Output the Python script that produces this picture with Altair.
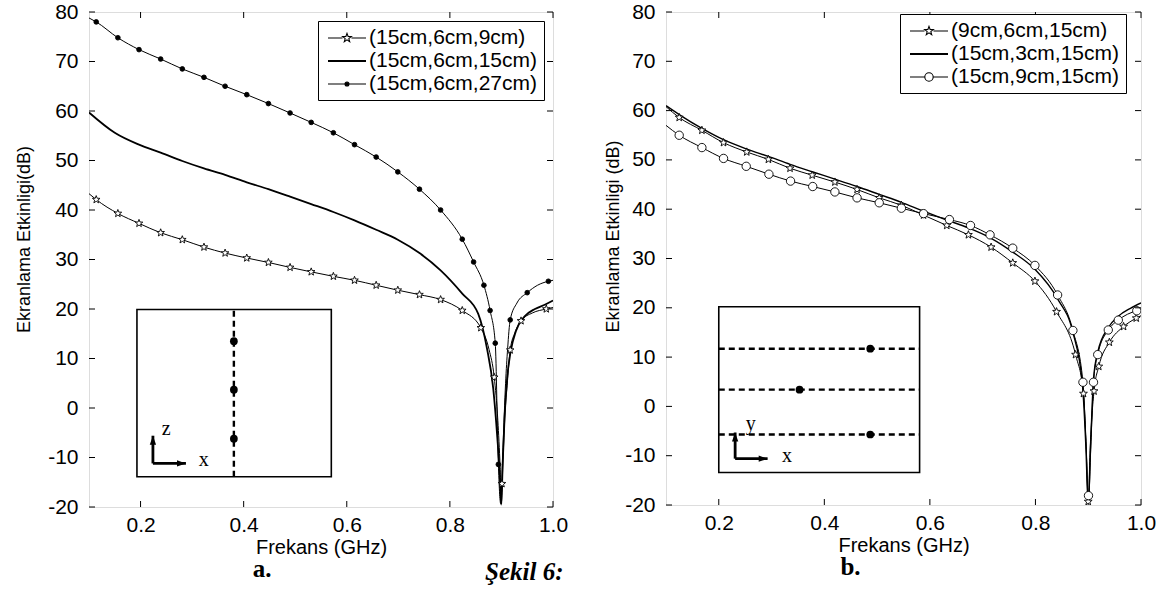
import math
import altair as alt
import pandas as pd

FONT = "Liberation Sans"
SERIF = "Liberation Serif"

X_TICKS = [0.2, 0.4, 0.6, 0.8, 1.0]
Y_TICKS = [-20, -10, 0, 10, 20, 30, 40, 50, 60, 70, 80]
X_TITLE = "Frekans (GHz)"

# ---------------- panel a ----------------
A_LABELS = ["(15cm,6cm,9cm)", "(15cm,6cm,15cm)", "(15cm,6cm,27cm)"]
A_YTITLE = "Ekranlama Etkinligi(dB)"

a1_line_x = [0.100, 0.114, 0.156, 0.197, 0.239, 0.281, 0.323, 0.364, 0.406, 0.448, 0.490, 0.531, 0.574,
             0.615, 0.657, 0.699, 0.741, 0.782, 0.824, 0.860, 0.876, 0.886, 0.893, 0.8975, 0.900, 0.9025,
             0.907, 0.911, 0.917, 0.926, 0.938, 0.960, 0.987, 1.000]
a1_line_y = [43.3, 42.1, 39.3, 37.3, 35.4, 34.0, 32.5, 31.3, 30.3, 29.4, 28.4, 27.5, 26.6,
             25.8, 24.8, 23.8, 22.9, 21.9, 19.7, 16.2, 11.8, 6.2, -2.5, -12.0, -19.4, -12.0,
             -1.0, 4.5, 11.7, 15.2, 17.6, 19.2, 20.0, 20.3]
a1_mark_x = [0.114, 0.156, 0.197, 0.239, 0.281, 0.323, 0.364, 0.406, 0.448, 0.490, 0.531, 0.574, 0.615,
             0.657, 0.699, 0.741, 0.782, 0.824, 0.860, 0.886, 0.901, 0.917, 0.938, 0.987]
a1_mark_y = [42.1, 39.3, 37.3, 35.4, 34.0, 32.5, 31.3, 30.3, 29.4, 28.4, 27.5, 26.6, 25.8,
             24.8, 23.8, 22.9, 21.9, 19.7, 16.2, 6.2, -15.3, 11.7, 17.6, 20.0]

a2_line_x = [0.100, 0.150, 0.197, 0.239, 0.281, 0.323, 0.364, 0.406, 0.448, 0.490, 0.531, 0.574, 0.615,
             0.657, 0.699, 0.741, 0.782, 0.824, 0.855, 0.872, 0.884, 0.892, 0.8965, 0.8995, 0.9025,
             0.906, 0.911, 0.918, 0.928, 0.945, 0.965, 0.985, 1.000]
a2_line_y = [59.7, 55.6, 53.2, 51.6, 49.9, 48.4, 47.1, 45.6, 44.2, 42.7, 41.2, 39.6, 37.9,
             36.0, 34.0, 31.3, 27.8, 23.1, 19.0, 12.0, 4.0, -6.0, -13.0, -19.5, -11.0,
             -2.0, 6.0, 11.5, 15.5, 18.5, 20.0, 20.9, 21.7]

a3_line_x = [0.100, 0.114, 0.156, 0.197, 0.239, 0.281, 0.323, 0.364, 0.406, 0.448, 0.490, 0.531, 0.574,
             0.615, 0.657, 0.699, 0.741, 0.782, 0.824, 0.846, 0.866, 0.878, 0.888, 0.894, 0.8985,
             0.903, 0.908, 0.912, 0.917, 0.930, 0.950, 0.970, 0.991, 1.000]
a3_line_y = [78.8, 78.0, 74.8, 72.4, 70.5, 68.5, 66.8, 65.0, 63.3, 61.5, 59.6, 57.7, 55.6,
             53.2, 50.7, 47.7, 44.2, 40.0, 34.1, 29.5, 24.8, 19.7, 13.1, -11.4, -19.3,
             -8.0, 5.0, 12.0, 17.8, 21.2, 23.3, 24.8, 25.6, 25.8]
a3_mark_x = [0.114, 0.156, 0.197, 0.239, 0.281, 0.323, 0.364, 0.406, 0.448, 0.490, 0.531, 0.574, 0.615,
             0.657, 0.699, 0.741, 0.782, 0.824, 0.846, 0.866, 0.878, 0.888, 0.894, 0.917, 0.950, 0.991]
a3_mark_y = [78.0, 74.8, 72.4, 70.5, 68.5, 66.8, 65.0, 63.3, 61.5, 59.6, 57.7, 55.6, 53.2,
             50.7, 47.7, 44.2, 40.0, 34.1, 29.5, 24.8, 19.7, 13.1, -11.4, 17.8, 23.3, 25.6]

# inset a (data units)
a_box = [0.193, 0.570, -13.9, 19.9]
a_dash_x1 = [0.381]
a_dash_x2 = [0.381]
a_dash_y1 = [-13.9]
a_dash_y2 = [19.9]
a_dot_x = [0.381, 0.381, 0.381]
a_dot_y = [13.5, 3.7, -6.2]
a_origin = [0.224, -11.2]
a_up_tip = -5.6
a_right_tip = 0.288
a_txt = ["z", "x"]
a_txt_x = [0.241, 0.313]
a_txt_y = [-4.2, -10.6]

# ---------------- panel b ----------------
B_LABELS = ["(9cm,6cm,15cm)", "(15cm,3cm,15cm)", "(15cm,9cm,15cm)"]
B_YTITLE = "Ekranlama Etkinligi (dB)"

b1_line_x = [0.100, 0.125, 0.168, 0.209, 0.253, 0.294, 0.335, 0.377, 0.420, 0.462, 0.504, 0.546, 0.588,
             0.632, 0.673, 0.716, 0.757, 0.799, 0.840, 0.876, 0.891, 0.8965, 0.900, 0.9035, 0.911,
             0.920, 0.940, 0.967, 0.991, 1.000]
b1_line_y = [60.8, 58.6, 56.0, 53.5, 51.6, 50.1, 48.3, 46.9, 45.5, 44.0, 42.3, 40.8, 38.8,
             36.7, 34.8, 32.3, 29.1, 25.4, 19.2, 10.5, 2.6, -9.0, -19.8, -9.0, 3.1,
             8.1, 13.0, 16.2, 17.9, 18.4]
b1_mark_x = [0.125, 0.168, 0.209, 0.253, 0.294, 0.335, 0.377, 0.420, 0.462, 0.504, 0.546, 0.588,
             0.632, 0.673, 0.716, 0.757, 0.799, 0.840, 0.876, 0.891, 0.900, 0.911, 0.920, 0.940,
             0.967, 0.991]
b1_mark_y = [58.6, 56.0, 53.5, 51.6, 50.1, 48.3, 46.9, 45.5, 44.0, 42.3, 40.8, 38.8,
             36.7, 34.8, 32.3, 29.1, 25.4, 19.2, 10.5, 2.6, -19.3, 3.1, 8.1, 13.0,
             16.2, 17.9]

b2_line_x = [0.100, 0.125, 0.168, 0.209, 0.253, 0.294, 0.335, 0.377, 0.420, 0.462, 0.504, 0.546, 0.588,
             0.632, 0.673, 0.716, 0.757, 0.799, 0.842, 0.871, 0.889, 0.8955, 0.900, 0.9045, 0.910,
             0.918, 0.938, 0.957, 0.980, 1.000]
b2_line_y = [61.0, 59.2, 56.4, 54.1, 52.2, 50.7, 49.1, 47.6, 46.1, 44.6, 43.0, 41.4, 39.6,
             37.8, 36.2, 34.1, 31.3, 27.8, 21.8, 15.0, 4.5, -8.0, -20.0, -8.0, 5.5,
             11.0, 16.0, 18.3, 19.9, 21.0]

b3_line_x = [0.100, 0.125, 0.168, 0.209, 0.252, 0.295, 0.336, 0.378, 0.420, 0.462, 0.504, 0.546, 0.588,
             0.637, 0.677, 0.714, 0.757, 0.799, 0.842, 0.871, 0.890, 0.896, 0.9005, 0.905, 0.910,
             0.918, 0.938, 0.957, 0.992, 1.000]
b3_line_y = [57.0, 55.0, 52.5, 50.3, 48.7, 47.1, 45.7, 44.6, 43.5, 42.3, 41.3, 40.2, 39.1,
             37.9, 36.7, 34.8, 32.1, 28.6, 22.6, 15.4, 4.9, -8.0, -19.3, -8.0, 4.9,
             10.5, 15.5, 17.5, 19.4, 19.6]
b3_mark_x = [0.125, 0.168, 0.209, 0.252, 0.295, 0.336, 0.378, 0.420, 0.462, 0.504, 0.546, 0.588,
             0.637, 0.677, 0.714, 0.757, 0.799, 0.842, 0.871, 0.890, 0.9005, 0.910, 0.918, 0.938,
             0.957, 0.992]
b3_mark_y = [55.0, 52.5, 50.3, 48.7, 47.1, 45.7, 44.6, 43.5, 42.3, 41.3, 40.2, 39.1,
             37.9, 36.7, 34.8, 32.1, 28.6, 22.6, 15.4, 4.9, -18.1, 4.9, 10.5, 15.5,
             17.5, 19.4]

# inset b (data units)
b_box = [0.200, 0.5805, -13.4, 20.2]
b_dash_x1 = [0.200, 0.200, 0.200]
b_dash_x2 = [0.5805, 0.5805, 0.5805]
b_dash_y1 = [11.7, 3.4, -5.7]
b_dash_y2 = [11.7, 3.4, -5.7]
b_dot_x = [0.487, 0.353, 0.487]
b_dot_y = [11.7, 3.4, -5.7]
b_origin = [0.231, -10.6]
b_up_tip = -5.3
b_right_tip = 0.2925
b_txt = ["y", "x"]
b_txt_x = [0.251, 0.320]
b_txt_y = [-3.6, -10.1]


# ---------------- symbol paths (styles) ----------------
def star_path(cx, cy, ro, ri):
    pts = []
    for k in range(10):
        ang = -math.pi / 2 + k * math.pi / 5
        r = ro if k % 2 == 0 else ri
        pts.append((cx + r * math.cos(ang), cy + r * math.sin(ang)))
    return "M" + "L".join(f"{x:.3f},{y:.3f}" for x, y in pts) + "Z"


def circle_path(cx, cy, r):
    return (f"M{cx + r:.3f},{cy:.3f}A{r:.3f},{r:.3f},0,1,1,{cx - r:.3f},{cy:.3f}"
            f"A{r:.3f},{r:.3f},0,1,1,{cx + r:.3f},{cy:.3f}Z")


STAR = star_path(0, 0, 1.0, 0.42)
LEG_STAR = "M-1.9,0H-0.45M0.45,0H1.9" + star_path(0, 0, 0.46, 0.19)
LEG_SOLID = "M-1.9,-0.05H1.9M-1.9,0.05H1.9"
LEG_DOT = "M-1.9,0H1.9" + circle_path(0, 0, 0.2)
LEG_CIRC = "M-1.9,0H-0.42M0.42,0H1.9" + circle_path(0, 0, 0.42)
ARROW_UP = "M0,0L-0.6,1.7L0.6,1.7Z"
ARROW_RIGHT = "M0,0L-1.7,-0.6L-1.7,0.6Z"

XSCALE = alt.Scale(domain=[0.1, 1.0], nice=False, zero=False)
YSCALE = alt.Scale(domain=[-20, 80], nice=False, zero=False)

XAXIS = alt.Axis(title=X_TITLE, values=X_TICKS, format=".1f", grid=False, ticks=False, tickSize=0,
                 domain=False, labelFont=FONT, labelFontSize=21, labelColor="black", labelPadding=7,
                 titleFont=FONT, titleFontSize=20, titleFontWeight="normal", titleColor="black",
                 titlePadding=2, labelFlush=False)


def yaxis(title, tx, ty):
    return alt.Axis(title=title, values=Y_TICKS, labelExpr="datum.value + ''", grid=False, ticks=False,
                    tickSize=0, domain=False, labelFont=FONT, labelFontSize=21, labelColor="black",
                    labelPadding=11, titleFont=FONT, titleFontSize=18, titleFontWeight="normal",
                    titleColor="black", titlePadding=4, labelFlush=False,
                    titleX=tx, titleY=ty, titleAngle=270, titleBaseline="bottom", titleAlign="center")


def panel(W, H, ytitle, ttx, tty, lines, markers, inset, leg, bottom_label, label_dx):
    yax = yaxis(ytitle, ttx, tty)

    def X(f):
        return alt.X(f"{f}:Q", scale=XSCALE, axis=XAXIS)

    def Y(f):
        return alt.Y(f"{f}:Q", scale=YSCALE, axis=yax)

    layers = []
    # inset box
    box, dx1, dx2, dy1, dy2, dotx, doty, origin, up_tip, right_tip, txt, txx, txy = inset
    box_df = pd.DataFrame({"x1": [box[0]], "x2": [box[1]], "y1": [box[2]], "y2": [box[3]]})
    layers.append(alt.Chart(box_df).mark_rect(filled=False, stroke="black", strokeWidth=1.6).encode(
        x=X("x1"), x2="x2:Q", y=Y("y1"), y2="y2:Q"))
    dash_df = pd.DataFrame({"x1": dx1, "x2": dx2, "y1": dy1, "y2": dy2})
    layers.append(alt.Chart(dash_df).mark_rule(color="black", strokeWidth=2.4, strokeDash=[6, 4]).encode(
        x=X("x1"), x2="x2:Q", y=Y("y1"), y2="y2:Q"))
    dot_df = pd.DataFrame({"x": dotx, "y": doty})
    layers.append(alt.Chart(dot_df).mark_point(filled=True, color="black", size=60, opacity=1).encode(
        x=X("x"), y=Y("y")))
    arr_df = pd.DataFrame({"x1": [origin[0], origin[0]], "x2": [origin[0], right_tip],
                           "y1": [origin[1], origin[1]], "y2": [up_tip, origin[1]]})
    layers.append(alt.Chart(arr_df).mark_rule(color="black", strokeWidth=2.8).encode(
        x=X("x1"), x2="x2:Q", y=Y("y1"), y2="y2:Q"))
    up_df = pd.DataFrame({"x": [origin[0]], "y": [up_tip]})
    layers.append(alt.Chart(up_df).mark_point(filled=True, color="black", size=110, opacity=1,
                                              shape=ARROW_UP).encode(x=X("x"), y=Y("y")))
    rt_df = pd.DataFrame({"x": [right_tip], "y": [origin[1]]})
    layers.append(alt.Chart(rt_df).mark_point(filled=True, color="black", size=110, opacity=1,
                                              shape=ARROW_RIGHT).encode(x=X("x"), y=Y("y")))
    txt_df = pd.DataFrame({"t": txt, "x": txx, "y": txy})
    layers.append(alt.Chart(txt_df).mark_text(font=SERIF, fontSize=20, align="left", baseline="middle",
                                             color="black").encode(x=X("x"), y=Y("y"), text="t:N"))

    # curves
    for xs, ys, sw in lines:
        df = pd.DataFrame({"x": xs, "y": ys})
        layers.append(alt.Chart(df).mark_line(color="black", strokeWidth=sw, interpolate="monotone",
                                              clip=True).encode(x=X("x"), y=Y("y"), order="x:Q"))
    for xs, ys, shp, fill, size in markers:
        df = pd.DataFrame({"x": xs, "y": ys})
        layers.append(alt.Chart(df).mark_point(shape=shp, filled=True, fill=fill, stroke="black",
                                               strokeWidth=0.9, size=size, opacity=1, clip=True).encode(
            x=X("x"), y=Y("y")))

    # inward ticks on all four sides
    xt = pd.DataFrame({"v": X_TICKS})
    yt = pd.DataFrame({"v": Y_TICKS})
    layers.append(alt.Chart(xt).mark_rule(color="black", strokeWidth=1).encode(
        x=X("v"), y=alt.value(0), y2=alt.value(6)))
    layers.append(alt.Chart(xt).mark_rule(color="black", strokeWidth=1).encode(
        x=X("v"), y=alt.value(H), y2=alt.value(H - 6)))
    layers.append(alt.Chart(yt).mark_rule(color="black", strokeWidth=1).encode(
        y=Y("v"), x=alt.value(0), x2=alt.value(6)))
    layers.append(alt.Chart(yt).mark_rule(color="black", strokeWidth=1).encode(
        y=Y("v"), x=alt.value(W - 6), x2=alt.value(W)))

    # legend (entries only, no marks drawn)
    labels, paths, fills, lx, ly = leg
    legend = alt.Legend(title=None, orient="none", legendX=lx, legendY=ly, labelFont=FONT,
                        labelFontSize=21, labelColor="black", labelLimit=400, symbolSize=400,
                        symbolOffset=12, labelOffset=11, rowPadding=2, padding=6,
                        strokeColor="black", fillColor="white", symbolStrokeColor="black",
                        symbolStrokeWidth=1.1, symbolOpacity=1)
    leg_df = pd.DataFrame({"series": labels, "x": [0.5] * len(labels), "y": [0.0] * len(labels)})
    layers.append(alt.Chart(leg_df).transform_filter("false").mark_point(
        filled=True, size=400, opacity=1).encode(
        x=X("x"), y=Y("y"),
        shape=alt.Shape("series:N", scale=alt.Scale(domain=labels, range=paths), legend=legend),
        fill=alt.Fill("series:N", scale=alt.Scale(domain=labels, range=fills), legend=legend),
        stroke=alt.Stroke("series:N", scale=alt.Scale(domain=labels, range=["black"] * len(labels)),
                          legend=legend),
        strokeWidth=alt.value(1.1)))

    return alt.layer(*layers).properties(
        width=W, height=H,
        title=alt.TitleParams(bottom_label, orient="bottom", font=SERIF, fontSize=25, fontWeight="bold",
                              color="black", anchor="middle", dx=label_dx, offset=0))


left = panel(
    464, 495, A_YTITLE, -56, 227,
    lines=[(a1_line_x, a1_line_y, 1.0), (a2_line_x, a2_line_y, 1.8), (a3_line_x, a3_line_y, 1.0)],
    markers=[(a1_mark_x, a1_mark_y, STAR, "white", 64), (a3_mark_x, a3_mark_y, "circle", "black", 22)],
    inset=(a_box, a_dash_x1, a_dash_x2, a_dash_y1, a_dash_y2, a_dot_x, a_dot_y, a_origin,
           a_up_tip, a_right_tip, a_txt, a_txt_x, a_txt_y),
    leg=(A_LABELS, [LEG_STAR, LEG_SOLID, LEG_DOT], ["white", "white", "black"], 229, 9),
    bottom_label="a.", label_dx=-59)

right = panel(
    475, 493, B_YTITLE, -44, 224,
    lines=[(b1_line_x, b1_line_y, 1.0), (b2_line_x, b2_line_y, 1.4), (b3_line_x, b3_line_y, 1.0)],
    markers=[(b1_mark_x, b1_mark_y, STAR, "white", 68), (b3_mark_x, b3_mark_y, "circle", "white", 70)],
    inset=(b_box, b_dash_x1, b_dash_x2, b_dash_y1, b_dash_y2, b_dot_x, b_dot_y, b_origin,
           b_up_tip, b_right_tip, b_txt, b_txt_x, b_txt_y),
    leg=(B_LABELS, [LEG_STAR, LEG_SOLID, LEG_CIRC], ["white", "white", "white"], 234, 2),
    bottom_label="b.", label_dx=-53)

chart = alt.hconcat(left, right, spacing=34).resolve_scale(
    x="independent", y="independent", shape="independent", fill="independent", stroke="independent"
).resolve_legend(shape="independent", fill="independent", stroke="independent").properties(
    padding={"left": 14, "top": 0, "right": 5, "bottom": 2},
    title=alt.TitleParams("Şekil 6:", orient="bottom", font=SERIF, fontSize=25, fontWeight="bold",
                          fontStyle="italic", color="black", anchor="middle", dx=-61, dy=-27)
).configure_view(stroke="black", strokeWidth=1.2).configure(background="white")

chart.save("out.html", embed_options={"renderer": "svg", "actions": False})
